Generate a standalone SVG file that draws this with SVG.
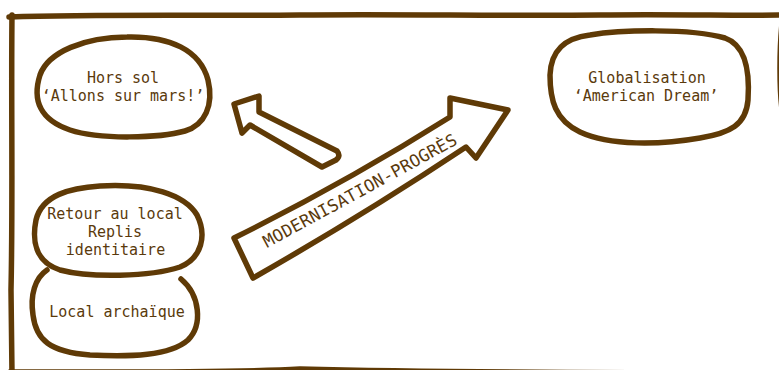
<svg xmlns="http://www.w3.org/2000/svg" width="779" height="370" viewBox="0 0 779 370">
<style>
.ln{fill:none;stroke:#5f3a06;stroke-width:5.5;stroke-linecap:round;stroke-linejoin:round}
.sh{fill:#fff;stroke:#5f3a06;stroke-width:5.5;stroke-linecap:round;stroke-linejoin:round}
.t{font-family:"DejaVu Sans Mono","Liberation Mono",monospace;font-size:15px;fill:#5a3a0c;text-anchor:middle}
</style>
<defs>
<path id="tp" d="M267,248 Q365,195 461,142"/>
</defs>
<rect width="779" height="370" fill="#fff"/>
<g id="frame">
<path class="ln" d="M9,17 C100,14 200,16 300,15 C400,14 500,16 600,15 C680,14 740,16 782,15"/>
<path class="ln" d="M12,15 C11,100 13,200 11,290 L12,374"/>
<path class="ln" d="M10,372 C150,372 250,372 300,369 C340,370 500,373 782,373"/>
<path class="ln" d="M783,15 C779,45 779,95 783,115 L784,374"/>
</g>
<g id="hors-sol">
<path class="ln" d="M127,37 C170,36 200,50 208,80 C214,105 205,125 185,131 C160,138 100,140 70,130 C40,120 32,100 40,75 C48,52 85,37 127,37 Z"/>
<text class="t" x="123" y="83">Hors sol</text>
<text class="t" x="123" y="101">‘Allons sur mars!’</text>
</g>
<g id="globalisation">
<path class="ln" d="M590,35 C620,30 690,28 725,38 C745,45 750,70 748,100 C746,125 730,133 700,138 C660,145 610,146 580,132 C555,120 550,100 550,75 C551,50 565,38 590,35 Z"/>
<text class="t" x="647" y="83">Globalisation</text>
<text class="t" x="646" y="101">‘American Dream’</text>
</g>
<g id="retour-local">
<path class="ln" d="M100,186 C150,183 185,195 197,215 C207,235 202,258 180,267 C150,277 90,278 60,270 C35,262 32,240 36,220 C42,195 70,188 100,186 Z"/>
<text class="t" x="115" y="219">Retour au local</text>
<text class="t" x="115" y="237">Replis</text>
<text class="t" x="115.5" y="255">identitaire</text>
</g>
<g id="local-archaique">
<path class="ln" d="M47,270 C35,278 30,295 33,315 C36,340 50,352 90,355 C130,357 170,356 188,340 C203,325 200,295 181,279"/>
<text class="t" x="117" y="317">Local archaïque</text>
</g>
<g id="connectors">
<path class="sh" d="M234,104 L259,96 L259,112 L337,151 Q341,156 336,160 L322,167 L250,125 L242,133 Z"/>
<path class="sh" d="M234,238 Q345,183 450,117 L450,98 L508,110 L476,158 L466,147 Q362,216 253,278 Z"/>
<text style="font-family:'DejaVu Sans Mono','Liberation Mono',monospace;font-size:17px;fill:#5a3a0c"><textPath href="#tp" textLength="218" lengthAdjust="spacing">MODERNISATION-PROGRÈS</textPath></text>
</g>
</svg>
